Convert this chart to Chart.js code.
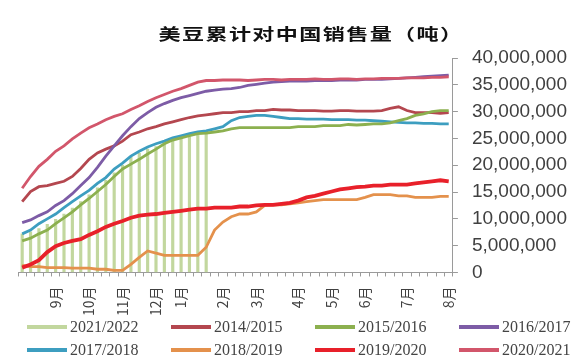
<!DOCTYPE html>
<html>
<head>
<meta charset="utf-8">
<script src="https://cdn.jsdelivr.net/npm/chart.js@4.4.0/dist/chart.umd.min.js"></script>
<style>
  body { margin: 0; background: #fff; }
  #wrap { position: relative; width: 587px; height: 357px; }
  #title {
    position: absolute; left: 311px; top: 21px;
    transform: translateX(-50%) scaleX(1.38);
    font: bold 16px "Noto Sans CJK SC"; letter-spacing: 1px;
    white-space: nowrap; color: #111;
  }
  .lg { position: absolute; height: 20px; display: flex; align-items: center;
        font: 16px "Liberation Serif"; color: #444; white-space: nowrap; }
  .lg i { display: inline-block; width: 40px; height: 4px; margin-right: 3px; }
</style>
</head>
<body>
<div id="wrap">
  <canvas id="chart" width="587" height="357"></canvas>
  <div id="title">美豆累计对中国销售量（吨）</div>
  <div id="legend"></div>
</div>
<script>
// weekly categories, Sep -> Aug; only some weeks carry a month label
const weekLabels = [
  '', '', '', '', '9月', '', '', '', '10月', '', '', '', '11月', '',
  '', '', '12月', '', '', '1月', '', '', '', '', '2月', '', '', '',
  '3月', '', '', '', '', '4月', '', '', '', '5月', '', '', '', '6月',
  '', '', '', '', '7月', '', '', '', '', '8月'
];

const seasonNames = ['2021/2022', '2014/2015', '2015/2016', '2016/2017',
                     '2017/2018', '2018/2019', '2019/2020', '2020/2021'];

// cumulative sales, million tonnes
const sales2122 = [7.2, 7.6, 8.2, 9.0, 9.9, 10.9, 12.0, 13.2, 14.5, 15.8, 17.2, 18.6,
  20.0, 21.5, 22.2, 23.0, 23.5, 24.0, 24.5, 25.0, 25.3, 25.6, 25.9];

const sales1415 = [13.2, 15.1, 16.0, 16.2, 16.6, 17.0, 17.9, 19.4, 21.1, 22.3, 23.0, 23.6,
  24.5, 25.7, 26.2, 26.8, 27.2, 27.7, 28.1, 28.5, 28.9, 29.2, 29.4, 29.6, 29.8, 29.8,
  30.0, 30.0, 30.2, 30.2, 30.4, 30.3, 30.3, 30.2, 30.2, 30.2, 30.1, 30.1, 30.2, 30.2,
  30.1, 30.1, 30.1, 30.2, 30.6, 30.9, 30.2, 29.8, 29.8, 29.8, 29.7, 29.8];

const sales1516 = [5.9, 6.4, 7.2, 7.9, 9.1, 10.2, 11.3, 12.6, 13.8, 15.1, 16.4, 17.9,
  19.3, 20.2, 21.1, 22.1, 23.0, 24.0, 24.7, 25.1, 25.5, 25.9, 26.0, 26.2, 26.4, 26.8,
  27.0, 27.0, 27.0, 27.0, 27.0, 27.0, 27.0, 27.2, 27.2, 27.2, 27.4, 27.4, 27.4, 27.6,
  27.5, 27.6, 27.7, 27.7, 27.9, 28.3, 28.7, 29.3, 29.6, 30.0, 30.2, 30.2];

const sales1617 = [9.3, 9.8, 10.6, 11.3, 12.5, 13.4, 14.7, 16.2, 17.7, 19.6, 21.7, 23.6,
  25.5, 27.2, 28.7, 29.8, 30.8, 31.5, 32.1, 32.6, 33.0, 33.4, 33.8, 34.0, 34.2, 34.3,
  34.5, 34.9, 35.1, 35.3, 35.5, 35.6, 35.7, 35.7, 35.7, 35.8, 35.8, 35.8, 35.9, 35.9,
  35.9, 36.0, 36.0, 36.0, 36.1, 36.2, 36.3, 36.4, 36.5, 36.6, 36.7, 36.8];

const sales1718 = [7.2, 7.9, 9.1, 10.0, 10.9, 12.1, 13.2, 14.3, 15.3, 16.6, 17.7, 19.3,
  20.4, 21.7, 22.6, 23.4, 24.0, 24.5, 25.1, 25.5, 25.9, 26.2, 26.4, 26.8, 27.2, 28.3,
  28.9, 29.1, 29.3, 29.3, 29.1, 28.9, 28.7, 28.7, 28.6, 28.6, 28.6, 28.5, 28.5, 28.5,
  28.4, 28.4, 28.3, 28.2, 28.1, 28.0, 27.9, 27.9, 27.8, 27.8, 27.7, 27.7];

const sales1819 = [1.3, 1.1, 1.1, 0.9, 0.9, 0.9, 0.8, 0.8, 0.8, 0.6, 0.6, 0.4,
  0.4, 1.5, 2.8, 4.0, 3.6, 3.2, 3.2, 3.2, 3.2, 3.2, 4.7, 7.9, 9.4, 10.4,
  10.9, 10.9, 11.3, 12.5, 12.6, 12.6, 12.8, 13.0, 13.2, 13.4, 13.6, 13.6, 13.6, 13.6,
  13.6, 14.0, 14.5, 14.5, 14.5, 14.3, 14.3, 14.0, 14.0, 14.0, 14.2, 14.2];

const sales1920 = [0.9, 1.5, 2.3, 3.8, 4.9, 5.5, 5.9, 6.2, 7.0, 7.7, 8.5, 9.1,
  9.6, 10.2, 10.6, 10.8, 10.9, 11.1, 11.3, 11.5, 11.7, 11.9, 11.9, 12.1, 12.1, 12.1,
  12.3, 12.3, 12.5, 12.6, 12.6, 12.8, 13.0, 13.4, 14.0, 14.3, 14.7, 15.1, 15.5, 15.7,
  15.9, 16.0, 16.2, 16.2, 16.4, 16.4, 16.4, 16.6, 16.8, 17.0, 17.2, 17.0];

const sales2021 = [15.7, 17.9, 19.8, 21.1, 22.6, 23.6, 24.9, 26.0, 27.0, 27.7, 28.5, 29.1,
  29.6, 30.4, 31.1, 31.9, 32.6, 33.2, 33.8, 34.3, 34.9, 35.5, 35.8, 35.8, 35.9, 35.9,
  35.9, 35.8, 35.9, 36.0, 36.0, 35.9, 36.0, 36.0, 36.0, 36.1, 36.0, 36.0, 36.1, 36.1,
  36.0, 36.1, 36.1, 36.2, 36.2, 36.2, 36.3, 36.3, 36.3, 36.4, 36.4, 36.5];

const seriesColors = ['#c2d79e', '#b4474f', '#8cb04f', '#7d5ca6',
                      '#3d9ec0', '#e4914c', '#e8202a', '#d2566b'];

const toTonnes = arr => arr.map(v => v * 1000000);

function lineSet(i, data, width, order) {
  return {
    type: 'line',
    label: seasonNames[i],
    data: toTonnes(data),
    borderColor: seriesColors[i],
    backgroundColor: seriesColors[i],
    borderWidth: width,
    pointRadius: 0,
    tension: 0,
    order: order
  };
}

new Chart(document.getElementById('chart'), {
  type: 'bar',
  data: {
    labels: weekLabels,
    datasets: [
      {
        type: 'bar',
        label: seasonNames[0],
        data: toTonnes(sales2122),
        backgroundColor: seriesColors[0],
        barThickness: 2.5,
        order: 10
      },
      lineSet(1, sales1415, 2.8, 6),
      lineSet(2, sales1516, 2.8, 5),
      lineSet(3, sales1617, 2.8, 4),
      lineSet(4, sales1718, 2.8, 5),
      lineSet(5, sales1819, 2.8, 3),
      lineSet(6, sales1920, 3.8, 1),
      lineSet(7, sales2021, 2.8, 2)
    ]
  },
  options: {
    responsive: false,
    animation: false,
    layout: { padding: { left: 18, right: 6, top: 58, bottom: 31 } },
    plugins: {
      legend: { display: false },
      tooltip: { enabled: false }
    },
    scales: {
      x: {
        grid: { drawOnChartArea: false, drawTicks: true, tickLength: 4, color: '#9a9a9a' },
        border: { color: '#9a9a9a' },
        ticks: {
          autoSkip: false, maxRotation: 90, minRotation: 90, padding: 10,
          color: '#404040',
          font: { family: 'Noto Sans CJK SC', size: 14 }
        }
      },
      y: {
        position: 'right',
        min: 0,
        max: 40000000,
        grid: { drawOnChartArea: false, tickLength: 5, color: '#9a9a9a' },
        border: { color: '#9a9a9a' },
        ticks: {
          stepSize: 5000000,
          autoSkip: false,
          padding: 14,
          color: '#404040',
          font: { family: 'Liberation Sans', size: 19 },
          callback: v => v.toLocaleString('en-US')
        }
      }
    }
  }
});

// legend, two rows of four
const legend = document.getElementById('legend');
seasonNames.forEach((name, i) => {
  const item = document.createElement('div');
  item.className = 'lg';
  item.style.left = (27 + (i % 4) * 144) + 'px';
  item.style.top = (317 + Math.floor(i / 4) * 23) + 'px';
  item.innerHTML = '<i style="background:' + seriesColors[i] + '"></i>' + name;
  legend.appendChild(item);
});
</script>
</body>
</html>
